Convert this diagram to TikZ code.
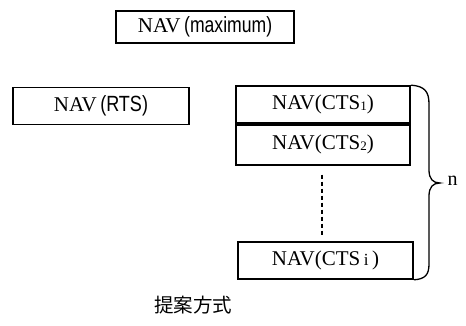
\documentclass[tikz,border=0pt]{standalone}
\usepackage{fontspec}
\setmainfont{Liberation Serif}
\newfontfamily\condsans{Liberation Sans}
\newfontfamily\cjk{Noto Sans CJK JP}
\begin{document}
\begin{tikzpicture}[x=1pt,y=-1pt,
  navbox/.style={draw,line width=1.7pt,minimum width=176pt,minimum height=37pt,inner sep=0pt,font=\fontsize{21}{21}\selectfont}]
\useasboundingbox (0,0) rectangle (466,326);
\node[navbox,minimum width=178pt,minimum height=32pt] (max) at (205,27) {NAV\,{\condsans\fontsize{22}{22}\selectfont\scalebox{0.8}[1]{(maximum)}}};
\node[navbox] (rts) at (101,106) {NAV\,{\condsans\fontsize{22}{22}\selectfont\scalebox{0.82}[1]{(RTS)}}};
\node[navbox,minimum width=174pt] (c1) at (323,104.5) {NAV(CTS\raisebox{-0.5pt}{\fontsize{13}{13}\selectfont 1})};
\node[navbox,minimum width=174pt,minimum height=40pt,anchor=north] (c2) at (c1.south) {NAV(CTS\raisebox{-0.5pt}{\fontsize{13}{13}\selectfont 2})};
\node[navbox,minimum width=175pt] (ci) at (325.5,260.5) {NAV(CTS\,{\fontsize{17}{17}\selectfont i}\,)};
\draw[line width=1.2pt,dash pattern=on 4pt off 3pt] (c2.south -| 322,0) ++(0,9) coordinate (d1) -- (322,237) coordinate (d2);
\coordinate (bt) at (c1.north east);
\coordinate (bb) at (ci.south east);
\coordinate (tip) at (440,183);
\draw[line width=1.3pt] (bt) .. controls (425,86) and (429,92) .. (429,104) -- (429,170)
  .. controls (429,179) and (433,183) .. (tip)
  .. controls (433,183) and (429,187) .. (429,196) -- (429,264)
  .. controls (429,275) and (425,279) .. (bb);
\node[font=\fontsize{20}{20}\selectfont,anchor=west] (n) at (444,181) {n};
\node[font=\cjk\fontsize{19.5}{19.5}\selectfont] (cap) at (193,305) {提案方式};
\end{tikzpicture}
\end{document}
